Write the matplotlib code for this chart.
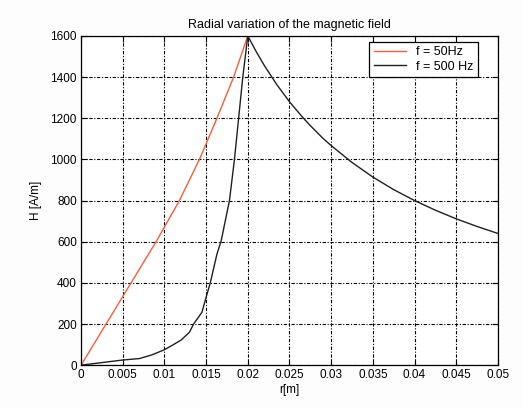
import matplotlib
matplotlib.use('Agg')
import matplotlib.pyplot as plt

plt.rcParams['font.family'] = ['Liberation Sans', 'DejaVu Sans']

# f = 50 Hz
r50 = [0.0, 0.003, 0.006, 0.009, 0.0118, 0.0142, 0.0163, 0.0183, 0.020]
h50 = [0, 200, 400, 600, 800, 1000, 1200, 1400, 1600]

# f = 500 Hz
r500 = [0.0, 0.002, 0.005, 0.007, 0.0085, 0.010, 0.011, 0.012, 0.013, 0.0135,
        0.0145, 0.015, 0.0155, 0.0163, 0.0168, 0.0178, 0.0184, 0.0189, 0.0194,
        0.020, 0.021, 0.022, 0.0235, 0.025, 0.0265, 0.0275, 0.029, 0.030,
        0.0325, 0.035, 0.0375, 0.040, 0.0425, 0.045, 0.0475, 0.050]
h500 = [0, 10, 25, 32, 50, 75, 98, 122, 160, 200,
        257, 330, 400, 540, 603, 800, 1000, 1200, 1400,
        1600, 1524, 1455, 1362, 1280, 1208, 1164, 1103, 1067,
        985, 914, 853, 800, 753, 711, 674, 640]

xticks = [0, 0.005, 0.01, 0.015, 0.02, 0.025, 0.03, 0.035, 0.04, 0.045, 0.05]
xlabels = ['0', '0.005', '0.01', '0.015', '0.02', '0.025', '0.03', '0.035',
           '0.04', '0.045', '0.05']
yticks = [0, 200, 400, 600, 800, 1000, 1200, 1400, 1600]

fig = plt.figure(figsize=(5.23, 4.08), dpi=100)
fig.patch.set_facecolor('#fdfdfd')
ax = fig.add_axes([0.155, 0.105, 0.797, 0.807])

ax.plot(r50, h50, color='#f0603c', lw=1.0, label='f = 50Hz')
ax.plot(r500, h500, color='#202020', lw=1.0, label='f = 500 Hz')

ax.set_xlim(0, 0.05)
ax.set_ylim(0, 1600)
ax.set_xticks(xticks)
ax.set_xticklabels(xlabels)
ax.set_yticks(yticks)
ax.tick_params(direction='in', top=True, right=True, labelsize=8.5, length=4,
               width=0.8, pad=3)
ax.grid(True, color='black', linestyle=(0, (3, 1.5, 1, 1.5)), linewidth=0.8)
for s in ax.spines.values():
    s.set_linewidth(0.9)

ax.set_title('Radial variation of the magnetic field', fontsize=9, pad=6)
ax.set_xlabel('r[m]', fontsize=8.5, labelpad=2)
ax.set_ylabel('H [A/m]', fontsize=8.5, labelpad=6)

leg = ax.legend(loc='upper right', bbox_to_anchor=(0.952, 0.982), fontsize=9,
                fancybox=False, framealpha=1, edgecolor='black', borderpad=0.35,
                handlelength=2.6, labelspacing=0.2, borderaxespad=0.0)
leg.get_frame().set_linewidth(0.9)

fig.savefig('out.png', dpi=100, facecolor=fig.get_facecolor())
